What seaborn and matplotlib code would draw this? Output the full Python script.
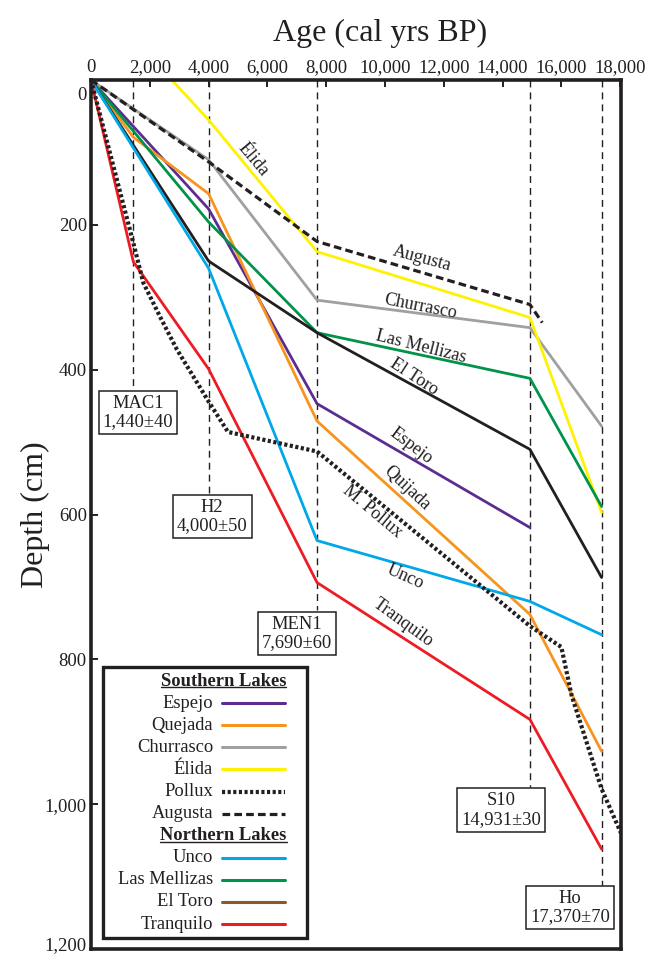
import matplotlib
matplotlib.use("Agg")
import matplotlib.pyplot as plt
import matplotlib.transforms as mtransforms
from matplotlib.lines import Line2D
from matplotlib.patches import Rectangle
from matplotlib.ticker import FuncFormatter
import pandas as pd
import seaborn as sns

# --- age-depth data (cal yrs BP, cm) ---
espejo_age = [0, 4000, 7690, 14931]
espejo_depth = [0, 178, 447, 618]
quijada_age = [0, 1440, 4000, 7690, 14931, 17370]
quijada_depth = [0, 79, 157, 471, 738, 927]
churrasco_age = [0, 4000, 7690, 14931, 17370]
churrasco_depth = [0, 110, 304, 342, 478]
elida_age = [2750, 4000, 7690, 14931, 17370]
elida_depth = [0, 55, 237, 328, 597]
pollux_age = [0, 1440, 1780, 2350, 2920, 4000, 4660, 7690, 14931, 16000, 16350, 17370, 18030]
pollux_depth = [0, 225, 280, 327, 372, 444, 486, 513, 754, 783, 850, 979, 1040]
augusta_age = [0, 4000, 7690, 14931, 15350]
augusta_depth = [0, 113, 223, 310, 335]
unco_age = [0, 4000, 7690, 14931, 17370]
unco_depth = [0, 260, 636, 720, 766]
mellizas_age = [0, 4000, 7690, 14931, 17370]
mellizas_depth = [0, 196, 349, 412, 589]
eltoro_age = [0, 4000, 7690, 14931, 17370]
eltoro_depth = [0, 250, 349, 510, 687]
tranquilo_age = [0, 1440, 4000, 7690, 14931, 17370]
tranquilo_depth = [0, 251, 399, 694, 883, 1062]

# tephra / dated horizons
date_names = ["MAC1", "H2", "MEN1", "S10", "Ho"]
date_ages = [1440, 4000, 7690, 14931, 17370]
date_errs = [40, 50, 60, 30, 70]

x_ticks = [0, 2000, 4000, 6000, 8000, 10000, 12000, 14000, 16000, 18000]
y_ticks = [0, 200, 400, 600, 800, 1000, 1200]

INK = "#231f20"
lakes = {
    "Espejo": (espejo_age, espejo_depth, "#5c2d91", "-"),
    "Quijada": (quijada_age, quijada_depth, "#f7941d", "-"),
    "Churrasco": (churrasco_age, churrasco_depth, "#a0a0a0", "-"),
    "Élida": (elida_age, elida_depth, "#fff200", "-"),
    "Las Mellizas": (mellizas_age, mellizas_depth, "#00934a", "-"),
    "El Toro": (eltoro_age, eltoro_depth, INK, "-"),
    "Unco": (unco_age, unco_depth, "#00a8e8", "-"),
    "Tranquilo": (tranquilo_age, tranquilo_depth, "#ed1c24", "-"),
    "Augusta": (augusta_age, augusta_depth, INK, (0, (2.4, 1.3))),
    "Pollux": (pollux_age, pollux_depth, INK, (0, (0.75, 0.6))),
}

rows = []
for name, (ages, depths, _, _) in lakes.items():
    for a, d in zip(ages, depths):
        rows.append({"lake": name, "age": a, "depth": d})
df = pd.DataFrame(rows)

sns.set_theme(style="white")
plt.rcParams["font.family"] = ["Liberation Serif", "DejaVu Serif"]

W, H = 660, 957
X0, X1, Y0, Y1 = 91, 621, 80, 949
fig = plt.figure(figsize=(W / 100, H / 100), dpi=100)
ax = fig.add_axes([X0 / W, 1 - Y1 / H, (X1 - X0) / W, (Y1 - Y0) / H])


def axfrac(px, py):
    return (px - X0) / (X1 - X0), 1 - (py - Y0) / (Y1 - Y0)


for name, (_, _, color, ls) in lakes.items():
    lw = 3.0 if name == "Pollux" else (2.3 if name == "Augusta" else 2.0)
    sns.lineplot(data=df[df.lake == name], x="age", y="depth", ax=ax, color=color,
                 linestyle=ls, linewidth=lw, sort=False, estimator=None,
                 zorder=3 if name in ("Pollux", "Augusta") else 2)
for line in ax.get_lines():
    line.set_dash_capstyle("butt")

ax.set_xlim(0, 18030)
ax.set_ylim(1200, 0)

# dated horizons: dashed guide down to a labelled box
box_pos = [(1600, 459), (4120, 603), (7010, 764), (13950, 1008), (16300, 1143)]
for name, age, err, (bx, by) in zip(date_names, date_ages, date_errs, box_pos):
    ax.plot([age, age], [0, by - 32], color=INK, lw=1.0, ls=(0, (5, 3.6)), zorder=1)
    ax.text(bx, by, f"{name}\n{age:,}±{err}", ha="center", va="center", fontsize=13.3,
            linespacing=1.1, color=INK, zorder=5,
            bbox=dict(boxstyle="square,pad=0.22", fc="white", ec=INK, lw=1.1))

# inline lake names
inline = [
    ("Élida", 5510, 110, -50), ("Augusta", 11260, 246, -15), ("Churrasco", 11190, 313, -11),
    ("Las Mellizas", 11230, 368, -14), ("El Toro", 10990, 410, -33), ("Espejo", 10890, 505, -37),
    ("Quijada", 10750, 564, -43), ("M. Pollux", 9560, 596, -40), ("Unco", 10680, 686, -24),
    ("Tranquilo", 10620, 749, -36),
]
for txt, x, y, rot in inline:
    ax.text(x, y, txt, rotation=rot, ha="center", va="center", fontsize=13,
            color=INK, rotation_mode="anchor", zorder=4)

# axes styling
ax.xaxis.tick_top()
ax.xaxis.set_label_position("top")
ax.set_xticks(x_ticks)
ax.set_yticks(y_ticks)
fmt = FuncFormatter(lambda v, p: f"{int(v):,}")
ax.xaxis.set_major_formatter(fmt)
ax.yaxis.set_major_formatter(fmt)
ax.tick_params(axis="both", direction="in", length=5, width=1.4, colors=INK,
               labelsize=13.5, labelcolor=INK, pad=3)
ax.tick_params(axis="x", top=True, bottom=False)
ax.tick_params(axis="y", left=True, right=False)
for sp in ax.spines.values():
    sp.set_linewidth(2.6)
    sp.set_color(INK)
ax.set_xlabel("Age (cal yrs BP)", fontsize=23, color=INK)
ax.set_ylabel("Depth (cm)", fontsize=23, color=INK)
ax.xaxis.set_label_coords(0.545, 1.045)
ax.yaxis.set_label_coords(-0.078, 0.5)
ax.grid(False)

# custom legend
lx0, ly0 = axfrac(103, 938)
lx1, ly1 = axfrac(307, 667)
ax.add_patch(Rectangle((lx0, ly0), lx1 - lx0, ly1 - ly0, transform=ax.transAxes,
                       fc="white", ec=INK, lw=2.4, zorder=6))
legend_rows = [
    ("Southern Lakes", None, None),
    ("Espejo", "#5c2d91", "-"), ("Quejada", "#f7941d", "-"), ("Churrasco", "#a0a0a0", "-"),
    ("Élida", "#fff200", "-"), ("Pollux", INK, (0, (0.75, 0.6))), ("Augusta", INK, (0, (2.4, 1.3))),
    ("Northern Lakes", None, None),
    ("Unco", "#00a8e8", "-"), ("Las Mellizas", "#00934a", "-"), ("El Toro", "#8b5a2b", "-"),
    ("Tranquilo", "#ed1c24", "-"),
]
headers = []
for i, (lab, color, ls) in enumerate(legend_rows):
    py = 681 + i * 22.1
    if color is None:
        t = ax.text(*axfrac(223.5, py), lab, transform=ax.transAxes, ha="center", va="center",
                    fontsize=13.3, fontweight="bold", color=INK, zorder=7)
        headers.append(t)
    else:
        ax.text(*axfrac(213, py), lab, transform=ax.transAxes, ha="right", va="center",
                fontsize=13.3, color=INK, zorder=7)
        (hx0, hy), (hx1, _) = axfrac(222, py), axfrac(285, py)
        lw = 3.0 if lab == "Pollux" else (2.3 if lab == "Augusta" else 2.2)
        ax.add_line(Line2D([hx0, hx1], [hy, hy], transform=ax.transAxes, color=color, ls=ls,
                           lw=lw, zorder=7, dash_capstyle="butt"))

fig.canvas.draw()
renderer = fig.canvas.get_renderer()
for t in headers:
    bb = t.get_window_extent(renderer)
    fig.add_artist(Line2D([bb.x0, bb.x1], [bb.y0 + 2.5, bb.y0 + 2.5], transform=None,
                          color=INK, lw=1.0, zorder=8))

# the "0" depth label sits a little below the top spine in the original;
# nudge the bottom "1,200" up so it is not clipped by the figure edge
yticks_objs = ax.yaxis.get_major_ticks()
lab0 = yticks_objs[0].label1
lab0.set_transform(lab0.get_transform() + mtransforms.ScaledTranslation(0, -0.13, fig.dpi_scale_trans))
labn = yticks_objs[-1].label1
labn.set_transform(labn.get_transform() + mtransforms.ScaledTranslation(0, 0.05, fig.dpi_scale_trans))

fig.savefig("out.png", dpi=100)
plt.close(fig)
